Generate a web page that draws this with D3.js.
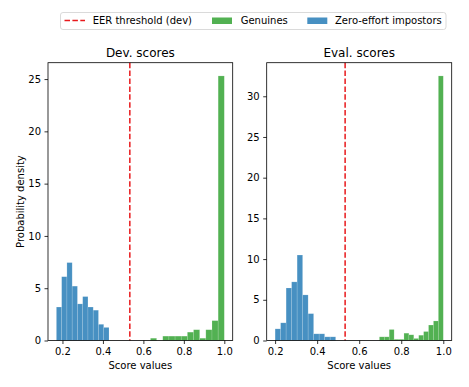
<!DOCTYPE html>
<html>
<head>
<meta charset="utf-8">
<script src="https://cdn.jsdelivr.net/npm/d3@7"></script>
<style>
  body { margin: 0; background: #fff; }
  text { font-family: "DejaVu Sans", sans-serif; fill: #000; }
</style>
</head>
<body>
<div id="chart"></div>
<script>
// Histogram bins: [first edge, last edge] and densities per bin
const devImpRange = [0.17, 0.43];
const devImpDensity = [3.2, 6.1, 7.45, 5.2, 3.5, 4.2, 3.2, 2.9, 1.55, 1.25];
const devGenRange = [0.635, 1.0];
const devGenDensity = [0.22, 0, 0.42, 0.42, 0.42, 0.42, 0.8, 1.03, 0.22, 1.03, 1.9, 25.3];

const evalImpRange = [0.2, 0.488];
const evalImpDensity = [1.43, 2.17, 6.45, 7.2, 10.5, 5.6, 3.3, 0.82, 0.82, 0.45, 0.45];
const evalGenRange = [0.696, 1.0];
const evalGenDensity = [0.45, 0.45, 1.35, 0.15, 0.15, 0.9, 0.7, 0.25, 0.65, 1.1, 1.9, 2.4, 32.5];

const eerThreshold = 0.533;
const xTicks = [0.2, 0.4, 0.6, 0.8, 1.0];
const legendLabels = ["EER threshold (dev)", "Genuines", "Zero-effort impostors"];

const colorGen = "#2ca02c";
const colorImp = "#1f77b4";
const colorEER = "#e8191c";

const width = 469, height = 387;
const svg = d3.select("#chart").append("svg")
    .attr("width", width)
    .attr("height", height);

// turn a range + densities into bar objects
function toBins(range, dens) {
    const w = (range[1] - range[0]) / dens.length;
    return dens.map((d, i) => ({ x0: range[0] + i * w, x1: range[0] + (i + 1) * w, y: d }));
}

const panels = [
    { title: "Dev. scores", left: 48, right: 232.7, yTicks: d3.range(0, 26, 5),
      imp: toBins(devImpRange, devImpDensity), gen: toBins(devGenRange, devGenDensity), ylabel: true },
    { title: "Eval. scores", left: 266.7, right: 451.7, yTicks: d3.range(0, 31, 5),
      imp: toBins(evalImpRange, evalImpDensity), gen: toBins(evalGenRange, evalGenDensity), ylabel: false },
];
const plotTop = 62.7, plotBottom = 340.5;

panels.forEach(p => {
    const all = p.imp.concat(p.gen);
    const xmin = d3.min(all, d => d.x0), xmax = d3.max(all, d => d.x1);
    const pad = (xmax - xmin) * 0.05;
    const x = d3.scaleLinear().domain([xmin - pad, xmax + pad]).range([p.left, p.right]);
    const ymax = d3.max(all, d => d.y) * 1.05;
    const y = d3.scaleLinear().domain([0, ymax]).range([plotBottom, plotTop]);

    const g = svg.append("g");

    // bars
    [[p.gen, colorGen], [p.imp, colorImp]].forEach(([bins, col]) => {
        g.selectAll(null)
            .data(bins.filter(d => d.y > 0))
            .enter().append("rect")
            .attr("x", d => x(d.x0))
            .attr("y", d => y(d.y))
            .attr("width", d => x(d.x1) - x(d.x0))
            .attr("height", d => y(0) - y(d.y))
            .attr("fill", col)
            .attr("fill-opacity", 0.82)
            .attr("stroke", "#fff")
            .attr("stroke-opacity", 0.25)
            .attr("stroke-width", 0.6);
    });

    // threshold line
    g.append("line")
        .attr("x1", x(eerThreshold)).attr("x2", x(eerThreshold))
        .attr("y1", plotTop).attr("y2", plotBottom)
        .attr("stroke", colorEER)
        .attr("stroke-width", 1.5)
        .attr("stroke-dasharray", "5.5,2.4");

    // axes
    const xAxis = g.append("g")
        .attr("transform", `translate(0,${plotBottom})`)
        .call(d3.axisBottom(x).tickValues(xTicks).tickFormat(d3.format(".1f")).tickSize(3.5).tickPadding(3.5));
    const yAxis = g.append("g")
        .attr("transform", `translate(${p.left},0)`)
        .call(d3.axisLeft(y).tickValues(p.yTicks).tickSize(3.5).tickPadding(3.5));
    [xAxis, yAxis].forEach(a => {
        a.select(".domain").remove();
        a.selectAll("line").attr("stroke", "#000").attr("stroke-width", 0.8);
        a.selectAll("text").attr("font-size", 10).attr("font-family", "DejaVu Sans");
    });

    // frame
    g.append("rect")
        .attr("x", p.left).attr("y", plotTop)
        .attr("width", p.right - p.left).attr("height", plotBottom - plotTop)
        .attr("fill", "none").attr("stroke", "#000").attr("stroke-width", 0.8);

    // title and labels
    g.append("text")
        .attr("x", (p.left + p.right) / 2).attr("y", 57)
        .attr("text-anchor", "middle").attr("font-size", 12)
        .text(p.title);
    g.append("text")
        .attr("x", (p.left + p.right) / 2).attr("y", 368.5)
        .attr("text-anchor", "middle").attr("font-size", 10)
        .text("Score values");
    if (p.ylabel) {
        g.append("text")
            .attr("transform", `translate(23.5,${(plotTop + plotBottom) / 2}) rotate(-90)`)
            .attr("text-anchor", "middle").attr("font-size", 10)
            .text("Probability density");
    }
});

// legend
const legend = svg.append("g");
legend.append("rect")
    .attr("x", 60.5).attr("y", 12.5).attr("width", 385.5).attr("height", 17)
    .attr("rx", 2.5)
    .attr("fill", "#fff").attr("fill-opacity", 0.8)
    .attr("stroke", "#d0d0d0").attr("stroke-width", 0.8);
legend.append("line")
    .attr("x1", 64.5).attr("x2", 85).attr("y1", 20.5).attr("y2", 20.5)
    .attr("stroke", colorEER).attr("stroke-width", 1.5)
    .attr("stroke-dasharray", "5.5,2.4");
legend.append("rect")
    .attr("x", 212).attr("y", 17.5).attr("width", 20).attr("height", 6.5)
    .attr("fill", colorGen).attr("fill-opacity", 0.82);
legend.append("rect")
    .attr("x", 307.3).attr("y", 17.5).attr("width", 20).attr("height", 6.5)
    .attr("fill", colorImp).attr("fill-opacity", 0.82);
[92.7, 240.7, 335].forEach((lx, i) => {
    legend.append("text")
        .attr("x", lx).attr("y", 24)
        .attr("font-size", 10)
        .text(legendLabels[i]);
});
</script>
</body>
</html>
